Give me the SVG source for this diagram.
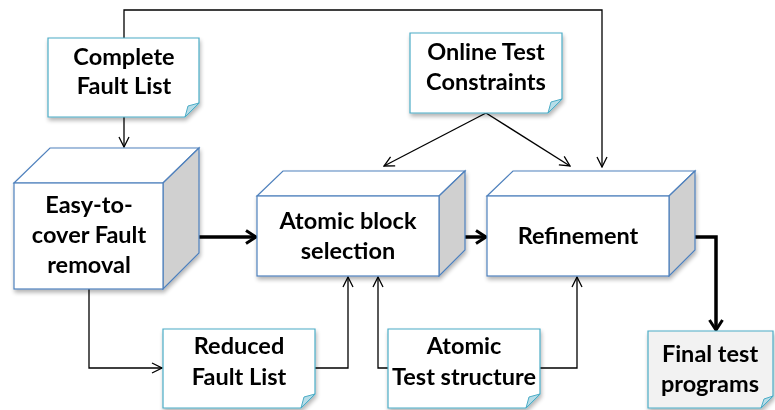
<svg xmlns="http://www.w3.org/2000/svg" width="775" height="410" viewBox="0 0 775 410">
<style>
.note{fill:#ffffff;stroke:#4bacc6;stroke-width:1.2}
.fold{fill:#b7dde8;stroke:#4bacc6;stroke-width:1}
.front{fill:#ffffff;stroke:#4f81bd;stroke-width:1.2}
.top{fill:#ffffff;stroke:#4f81bd;stroke-width:1.2}
.side{fill:#d0d0d0;stroke:#4f81bd;stroke-width:1.2}
.t{font-family:Lato,"Open Sans",sans-serif;font-weight:bold;font-size:23.5px;fill:#000;text-anchor:middle}
.thin{fill:none;stroke:#000;stroke-width:1.3;marker-end:url(#a)}
.thick{fill:none;stroke:#000;stroke-width:3.5;marker-end:url(#b)}
</style>
<defs>
<marker id="a" viewBox="0 0 12 12" refX="11" refY="6" markerWidth="12" markerHeight="12" markerUnits="userSpaceOnUse" orient="auto"><path d="M1,1 L11,6 L1,11" fill="none" stroke="#000" stroke-width="1.3"/></marker>
<marker id="b" viewBox="0 0 14 16" refX="12" refY="8" markerWidth="14" markerHeight="16" markerUnits="userSpaceOnUse" orient="auto"><path d="M2,1.5 L12,8 L2,14.5" fill="none" stroke="#000" stroke-width="3"/></marker>
<filter id="sh" x="-10%" y="-10%" width="130%" height="130%"><feGaussianBlur in="SourceAlpha" stdDeviation="2"/><feOffset dx="1" dy="3"/><feComponentTransfer><feFuncA type="linear" slope="0.3"/></feComponentTransfer><feMerge><feMergeNode/><feMergeNode in="SourceGraphic"/></feMerge></filter>
</defs>
<g id="connectors">
<path class="thin" d="M124,38 V10 H602 V167"/>
<path class="thin" d="M124,117 V147"/>
<path class="thin" d="M486,113 L384,166"/>
<path class="thin" d="M486,113 L570,166"/>
<path class="thin" d="M89,289 V368 H162"/>
<path class="thin" d="M315,368 H348 V277"/>
<path class="thin" d="M388,368 H378 V277"/>
<path class="thin" d="M540,368 H577 V277"/>
<path class="thick" d="M163,237 H256"/>
<path class="thick" d="M439,237 H486"/>
<path class="thick" d="M669,237 H716 V330"/>
</g>
<g id="complete-fault-list" filter="url(#sh)">
<path class="note" d="M48,38 H199 V103 L185,117 H48 Z"/>
<path class="fold" d="M185,117 L199,103 L188,106 Z"/>
<text class="t" x="124" y="65">Complete</text>
<text class="t" x="124" y="94">Fault List</text>
</g>
<g id="online-test-constraints" filter="url(#sh)">
<path class="note" d="M410,33 H562 V99 L548,113 H410 Z"/>
<path class="fold" d="M548,113 L562,99 L551,102 Z"/>
<text class="t" x="486" y="60">Online Test</text>
<text class="t" x="486" y="90">Constraints</text>
</g>
<g id="easy-to-cover" filter="url(#sh)">
<path class="top" d="M14,183 L50,148 H199 L163,183 Z"/>
<path class="side" d="M163,183 L199,148 V253 L163,289 Z"/>
<rect class="front" x="14" y="183" width="149" height="106"/>
<text class="t" x="89" y="213">Easy-to-</text>
<text class="t" x="89" y="243">cover Fault</text>
<text class="t" x="89" y="273">removal</text>
</g>
<g id="atomic-block-selection" filter="url(#sh)">
<path class="top" d="M257,196 L283,171 H465 L439,196 Z"/>
<path class="side" d="M439,196 L465,171 V250 L439,276 Z"/>
<rect class="front" x="257" y="196" width="182" height="80"/>
<text class="t" x="348" y="229">Atomic block</text>
<text class="t" x="348" y="259">selection</text>
</g>
<g id="refinement" filter="url(#sh)">
<path class="top" d="M487,196 L513,171 H695 L669,196 Z"/>
<path class="side" d="M669,196 L695,171 V250 L669,276 Z"/>
<rect class="front" x="487" y="196" width="182" height="80"/>
<text class="t" x="578" y="244">Refinement</text>
</g>
<g id="reduced-fault-list" filter="url(#sh)">
<path class="note" d="M163,329 H315 V394 L301,408 H163 Z"/>
<path class="fold" d="M301,408 L315,394 L304,397 Z"/>
<text class="t" x="239" y="354">Reduced</text>
<text class="t" x="239" y="385">Fault List</text>
</g>
<g id="atomic-test-structure" filter="url(#sh)">
<path class="note" d="M388,329 H540 V394 L526,408 H388 Z"/>
<path class="fold" d="M526,408 L540,394 L529,397 Z"/>
<text class="t" x="464" y="354">Atomic</text>
<text class="t" x="464" y="385">Test structure</text>
</g>
<g id="final-test-programs" filter="url(#sh)">
<path class="note" style="fill:#f2f2f2" d="M648,331 H773 V396 L761,408 H648 Z"/>
<path class="fold" d="M761,408 L773,396 L764,399 Z"/>
<text class="t" x="710" y="362">Final test</text>
<text class="t" x="710" y="392">programs</text>
</g>
</svg>
